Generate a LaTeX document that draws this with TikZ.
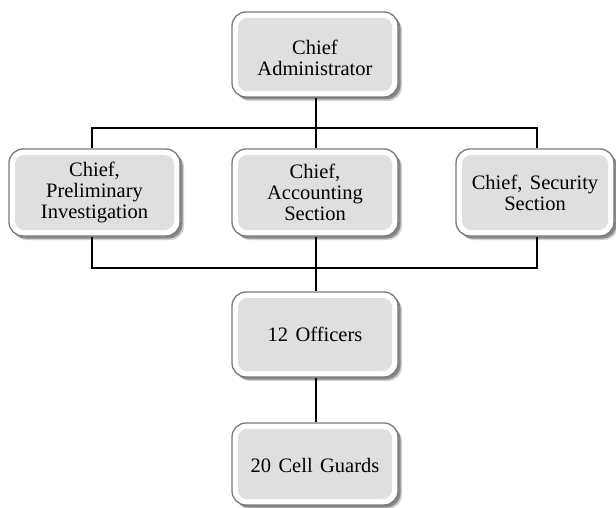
\documentclass[tikz,border=0pt]{standalone}
\usepackage{fontspec}
\setmainfont{Liberation Serif}
\usetikzlibrary{shadows,backgrounds}
\definecolor{innerfill}{HTML}{DFDFDF}
\definecolor{rimgray}{HTML}{7A7A7A}
\newcommand\wsp{\hspace{0.36em}}
\begin{document}
\begin{tikzpicture}[x=1pt,y=-1pt,
  orgbox/.style={draw=rimgray, line width=1.3pt, fill=white,
    rounded corners=14pt, align=center, inner sep=0pt,
    font=\fontsize{20.5}{21}\selectfont,
    drop shadow={shadow xshift=4pt, shadow yshift=-4pt, fill=black, opacity=0.18},
    drop shadow={shadow xshift=2.5pt, shadow yshift=-2.5pt, fill=black, opacity=0.35},
    path picture={\fill[innerfill, rounded corners=9pt]
      ([shift={(6pt,-6pt)}]path picture bounding box.north west) rectangle
      ([shift={(-6pt,6pt)}]path picture bounding box.south east);}},
  link/.style={draw=black, line width=1.6pt}]
\useasboundingbox (0,0) rectangle (616,508);

% boxes
\node[orgbox, minimum width=166pt, minimum height=85pt] (chief) at (315,54.5) {\rule{0pt}{22pt}Chief\\Administrator};
\node[orgbox, minimum width=171pt, minimum height=87pt] (prelim) at (94.5,192.5) {Chief,\\Preliminary\\Investigation};
\node[orgbox, minimum width=166pt, minimum height=87pt] (acct) at (315,192.5) {Chief,\\Accounting\\Section};
\node[orgbox, minimum width=158pt, minimum height=87pt] (sec) at (535,192.5) {Chief,\wsp Security\\Section};
\node[orgbox, minimum width=166pt, minimum height=85pt] (off) at (315,334.5) {12\wsp Officers};
\node[orgbox, minimum width=166pt, minimum height=82pt] (guard) at (315,464) {\rule{0pt}{18pt}20\wsp Cell\wsp Guards};

% bus lines
\coordinate (busTop) at (316,128);
\coordinate (busBot) at (316,268);

\begin{scope}[on background layer]
\draw[link] (chief.south -| busTop) -- (busTop);
\draw[link] ([xshift=-2.5pt]prelim.north) -- ([xshift=-2.5pt]prelim.north |- busTop)
  -- ([xshift=2pt]sec.north |- busTop) -- ([xshift=2pt]sec.north);
\draw[link] (busTop) -- (acct.north -| busTop);
\draw[link] ([xshift=-2.5pt]prelim.south) -- ([xshift=-2.5pt]prelim.south |- busBot)
  -- ([xshift=2pt]sec.south |- busBot) -- ([xshift=2pt]sec.south);
\draw[link] (acct.south -| busBot) -- (off.north -| busBot);
\draw[link] (off.south -| busBot) -- (guard.north -| busBot);
\end{scope}
\end{tikzpicture}
\end{document}
